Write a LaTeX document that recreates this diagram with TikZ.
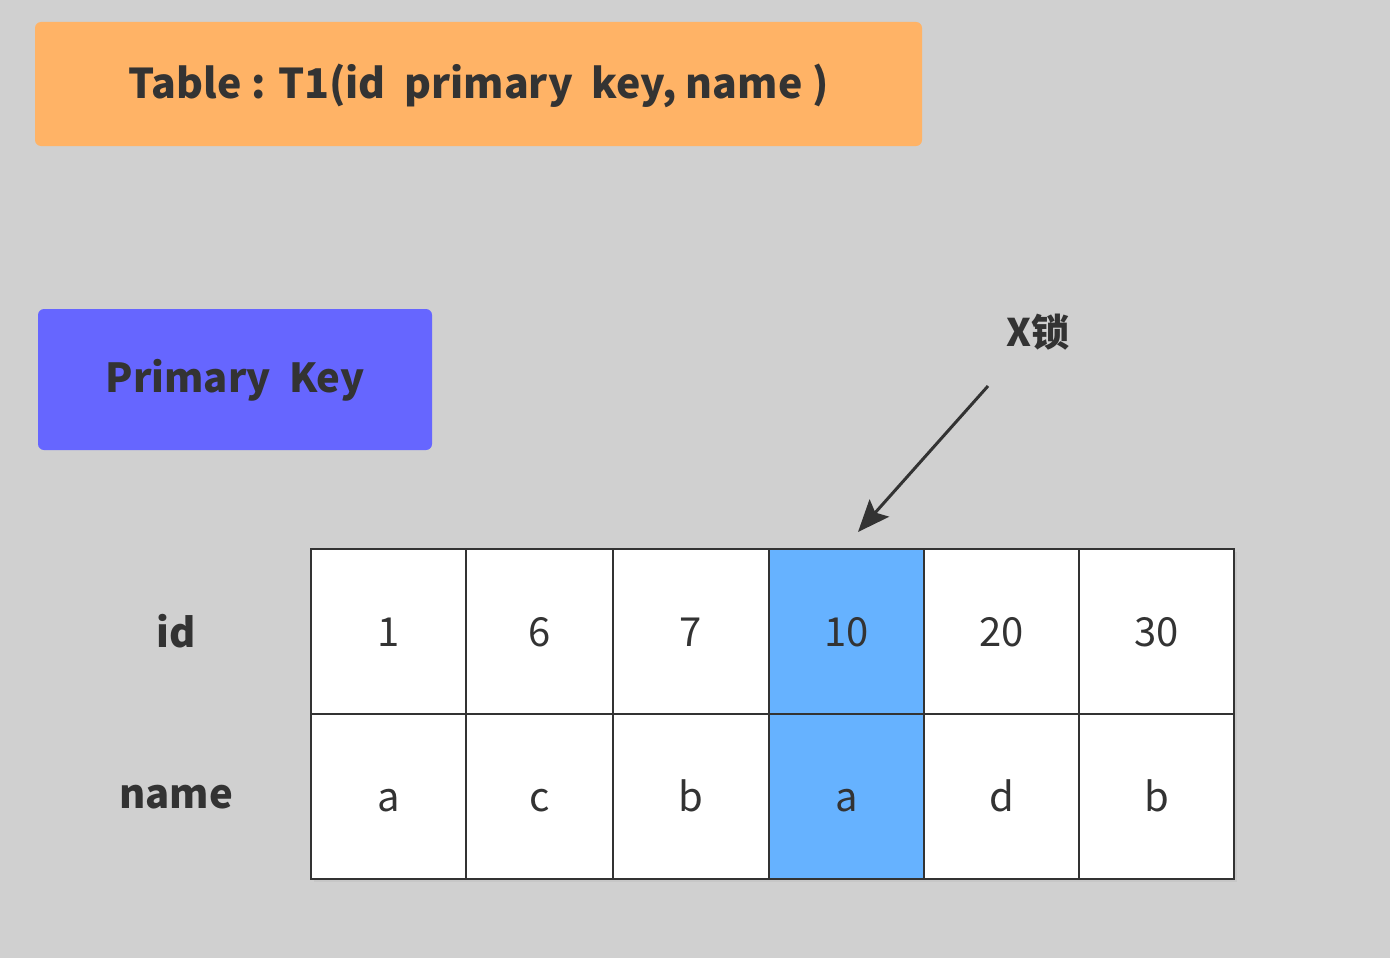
\documentclass[tikz,border=0pt]{standalone}
\usepackage{fontspec}
\setmainfont{Noto Sans CJK SC}
\usetikzlibrary{arrows.meta}
\definecolor{bg}{HTML}{D0D0D0}
\definecolor{orangebox}{HTML}{FFB366}
\definecolor{bluebox}{HTML}{6666FF}
\definecolor{hilite}{HTML}{66B2FF}
\definecolor{ink}{HTML}{333333}
\begin{document}
\begin{tikzpicture}[x=1pt,y=-1pt,
  cell/.style={draw=ink, line width=1.8pt, fill=white, text=ink, minimum height=165pt, inner sep=0pt, text height=29pt, text depth=0pt, font=\fontsize{40}{48}\selectfont},
  hcell/.style={cell, fill=hilite},
  rowlabel/.style={text=ink, font=\bfseries\fontsize{40}{48}\selectfont},
  callout/.style={draw=ink, line width=3pt, -{Stealth[length=32pt,width=26pt,inset=6pt]}}
]
\fill[bg] (0,0) rectangle (1390,958);
\useasboundingbox (0,0) rectangle (1390,958);

\fill[orangebox, rounded corners=6pt] (35,22) rectangle (922,146);
\node[text=ink, font=\bfseries\fontsize{41}{48}\selectfont] (title) at (478.5,86) {Table : T1(id\ \ primary\ \ key, name )};

\fill[bluebox, rounded corners=6pt] (38,309) rectangle (432,450);
\node[text=ink, font=\bfseries\fontsize{40}{48}\selectfont] (pk) at (235,380) {Primary\ \ Key};

% shadow
\fill[black!22] (314,552) rectangle (1237,882);

% cells
\foreach \i/\x/\w/\v/\n in {1/311/155/1/a, 2/466/147/6/c, 3/613/156/7/b, 4/769/155/10/a, 5/924/155/20/d, 6/1079/155/30/b}{
  \pgfmathsetmacro{\cx}{\x+\w/2-1}
  \ifnum\i=4
    \node[hcell, minimum width=\w pt] (id\i) at (\cx+1,631.5) {\v};
    \node[hcell, minimum width=\w pt] (nm\i) at (\cx+1,796.5) {\n};
  \else
    \node[cell, minimum width=\w pt] (id\i) at (\cx+1,631.5) {\v};
    \node[cell, minimum width=\w pt] (nm\i) at (\cx+1,796.5) {\n};
  \fi
}

\node[rowlabel] (idl) at (176,631) {id};
\node[rowlabel] (nml) at (176,797) {name};

\node[text=ink, font=\bfseries\fontsize{38}{44}\selectfont] (xl) at (1038,332) {X锁};
\coordinate (as) at (988,386);
\coordinate (ae) at (858,532);
\draw[callout] (as) -- (ae);
\end{tikzpicture}
\end{document}
